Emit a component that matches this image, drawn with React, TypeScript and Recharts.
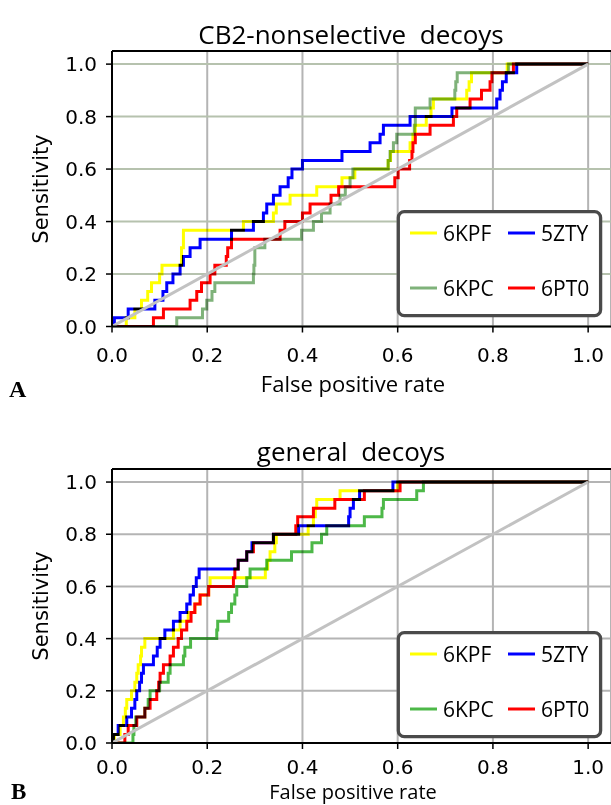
import { CartesianGrid, Line, LineChart, ReferenceLine, XAxis, YAxis } from "recharts"

const ticks = [0, 0.2, 0.4, 0.6, 0.8, 1.0]
const diagFpr = [0, 1]
const diagTpr = [0, 1]

// sensitivity levels shared by the 32-step curves
const tpr32 = [0, 0.033, 0.067, 0.1, 0.133, 0.167, 0.2, 0.233, 0.267, 0.3, 0.333, 0.367, 0.4, 0.433, 0.467, 0.5, 0.533, 0.567, 0.6, 0.633, 0.667, 0.7, 0.733, 0.767, 0.8, 0.833, 0.867, 0.9, 0.933, 0.967, 1.0, 1.0]

// A: CB2-nonselective decoys
const fprA_6KPF = [0, 0.03, 0.048, 0.062, 0.075, 0.083, 0.1, 0.105, 0.146, 0.15, 0.276, 0.339, 0.345, 0.374, 0.43, 0.483, 0.51, 0.58, 0.585, 0.626, 0.632, 0.637, 0.66, 0.67, 0.675, 0.745, 0.75, 0.755, 0.83, 1.0]
const tprA_6KPF = [0, 0.033, 0.067, 0.1, 0.133, 0.167, 0.2, 0.233, 0.3, 0.367, 0.4, 0.433, 0.467, 0.5, 0.533, 0.567, 0.6, 0.633, 0.667, 0.7, 0.733, 0.767, 0.8, 0.833, 0.867, 0.9, 0.933, 0.967, 1.0, 1.0]
const fprA_5ZTY = [0, 0.005, 0.034, 0.09, 0.107, 0.115, 0.128, 0.143, 0.15, 0.164, 0.185, 0.251, 0.297, 0.318, 0.325, 0.339, 0.353, 0.37, 0.378, 0.4, 0.483, 0.542, 0.563, 0.57, 0.626, 0.714, 0.808, 0.815, 0.82, 0.828, 0.85, 1.0]
const fprA_6KPC = [0, 0.136, 0.19, 0.199, 0.21, 0.216, 0.297, 0.298, 0.3, 0.321, 0.398, 0.423, 0.44, 0.458, 0.479, 0.49, 0.5, 0.506, 0.58, 0.584, 0.591, 0.598, 0.635, 0.637, 0.668, 0.72, 0.722, 0.725, 0.833, 1.0]
const tprA_6KPC = [0, 0.033, 0.067, 0.1, 0.133, 0.167, 0.2, 0.233, 0.3, 0.333, 0.367, 0.4, 0.433, 0.467, 0.5, 0.533, 0.567, 0.6, 0.633, 0.667, 0.7, 0.733, 0.767, 0.833, 0.867, 0.9, 0.933, 0.967, 1.0, 1.0]
const fprA_6PT0 = [0, 0.087, 0.108, 0.164, 0.178, 0.188, 0.206, 0.216, 0.24, 0.243, 0.251, 0.353, 0.363, 0.4, 0.416, 0.46, 0.476, 0.594, 0.601, 0.625, 0.63, 0.632, 0.637, 0.668, 0.717, 0.724, 0.752, 0.776, 0.794, 0.798, 0.843, 1.0]

// B: general decoys
const fprB_6KPF = [0, 0.005, 0.017, 0.024, 0.028, 0.031, 0.041, 0.048, 0.052, 0.055, 0.06, 0.062, 0.069, 0.129, 0.143, 0.16, 0.174, 0.185, 0.203, 0.206, 0.322, 0.327, 0.332, 0.342, 0.345, 0.412, 0.423, 0.427, 0.43, 0.479, 0.6, 1.0]
const fprB_5ZTY = [0, 0.003, 0.013, 0.031, 0.041, 0.048, 0.052, 0.058, 0.062, 0.066, 0.087, 0.095, 0.101, 0.111, 0.129, 0.143, 0.157, 0.164, 0.171, 0.177, 0.183, 0.265, 0.283, 0.294, 0.339, 0.392, 0.497, 0.5, 0.507, 0.52, 0.59, 1.0]
const fprB_6KPC = [0, 0.044, 0.046, 0.05, 0.069, 0.076, 0.08, 0.1, 0.118, 0.122, 0.15, 0.153, 0.165, 0.22, 0.222, 0.245, 0.251, 0.258, 0.262, 0.283, 0.29, 0.325, 0.377, 0.42, 0.44, 0.451, 0.53, 0.567, 0.57, 0.64, 0.654, 1.0]
const fprB_6PT0 = [0, 0.027, 0.034, 0.052, 0.069, 0.08, 0.094, 0.098, 0.101, 0.108, 0.122, 0.129, 0.139, 0.146, 0.157, 0.166, 0.174, 0.185, 0.203, 0.255, 0.258, 0.265, 0.283, 0.297, 0.339, 0.386, 0.39, 0.423, 0.468, 0.53, 0.605, 1.0]

const names = ["6KPF", "5ZTY", "6KPC", "6PT0"]

type Curve = { name: string; color: string; fpr: number[]; tpr: number[] }

const zip = (xs: number[], ys: number[]) => xs.map((x, i) => ({ x, y: ys[i] }))

const curvesA: Curve[] = [
  { name: names[0], color: "#ffff00", fpr: fprA_6KPF, tpr: tprA_6KPF },
  { name: names[1], color: "#0000ff", fpr: fprA_5ZTY, tpr: tpr32 },
  { name: names[2], color: "#7fb27a", fpr: fprA_6KPC, tpr: tprA_6KPC },
  { name: names[3], color: "#ff0000", fpr: fprA_6PT0, tpr: tpr32 },
]

const curvesB: Curve[] = [
  { name: names[0], color: "#ffff00", fpr: fprB_6KPF, tpr: tpr32 },
  { name: names[1], color: "#0000ff", fpr: fprB_5ZTY, tpr: tpr32 },
  { name: names[2], color: "#4db848", fpr: fprB_6KPC, tpr: tpr32 },
  { name: names[3], color: "#ff0000", fpr: fprB_6PT0, tpr: tpr32 },
]

const tickFont = { fontSize: 20, fontFamily: "DejaVu Sans", fill: "#000" }

function Panel({
  top,
  plotHeight,
  curves,
  hGridColor,
  xTickMargin,
}: {
  top: number
  plotHeight: number
  curves: Curve[]
  hGridColor: string
  xTickMargin: number
}) {
  const height = 380
  return (
    <div style={{ position: "absolute", left: 0, top, width: 611, height }}>
      <LineChart
        width={611}
        height={height}
        margin={{ top: 51, right: 0, left: 52, bottom: height - 51 - plotHeight - 40 }}
      >
        <CartesianGrid horizontal={false} stroke="#b4b4b4" strokeWidth={2} />
        <CartesianGrid vertical={false} stroke={hGridColor} strokeWidth={2} />
        <XAxis
          type="number"
          dataKey="x"
          domain={[0, 1.048]}
          ticks={ticks}
          interval={0}
          allowDataOverflow
          height={40}
          tickSize={6}
          tickMargin={xTickMargin}
          tick={tickFont}
          tickFormatter={(v: number) => v.toFixed(1)}
          axisLine={{ stroke: "#000", strokeWidth: 2 }}
          tickLine={{ stroke: "#000", strokeWidth: 1.5 }}
        />
        <YAxis
          type="number"
          dataKey="y"
          domain={[0, 1.05]}
          ticks={ticks}
          interval={0}
          allowDataOverflow
          width={60}
          tickSize={6}
          tickMargin={9}
          tick={tickFont}
          tickFormatter={(v: number) => v.toFixed(1)}
          axisLine={{ stroke: "#000", strokeWidth: 2 }}
          tickLine={{ stroke: "#000", strokeWidth: 1.5 }}
        />
        <ReferenceLine y={1.05} stroke="#000" strokeWidth={2} />
        {curves.map((c) => (
          <Line
            key={c.name}
            className="roc-blend"
            data={zip(c.fpr, c.tpr)}
            dataKey="y"
            type="stepAfter"
            stroke={c.color}
            strokeWidth={3}
            dot={false}
            activeDot={false}
            isAnimationActive={false}
          />
        ))}
        <Line
          data={zip(diagFpr, diagTpr)}
          dataKey="y"
          type="linear"
          stroke="#c2c2c2"
          strokeWidth={3}
          dot={false}
          activeDot={false}
          isAnimationActive={false}
        />
      </LineChart>
    </div>
  )
}

function Legend({ top, curves }: { top: number; curves: Curve[] }) {
  const cols = [410, 508]
  const rows = [23, 78]
  return (
    <g>
      <rect x={398.3} y={top + 1.7} width={202.3} height={104} rx={6} fill="#fff" stroke="#4a4a4a" strokeWidth={3.3} />
      {curves.map((c, i) => {
        const cx = cols[i % 2]
        const cy = top + rows[Math.floor(i / 2)]
        return (
          <g key={c.name}>
            <line x1={cx} x2={cx + 27} y1={cy} y2={cy} stroke={c.color} strokeWidth={3} />
            <text x={cx + 33} y={cy + 8.4} fontSize={21} fontFamily="Open Sans" fill="#000">
              {c.name}
            </text>
          </g>
        )
      })}
    </g>
  )
}

export default function App() {
  return (
    <div style={{ position: "absolute", left: 0, top: 0, width: 611, height: 805, overflow: "hidden", background: "#fff" }}>
      <style>{`.roc-blend { mix-blend-mode: multiply; }`}</style>
      <Panel top={0} plotHeight={275.5} curves={curvesA} hGridColor="#b6c2ae" xTickMargin={15} />
      <Panel top={418} plotHeight={274} curves={curvesB} hGridColor="#b4b4b4" xTickMargin={11} />
      <svg width={611} height={805} style={{ position: "absolute", left: 0, top: 0, pointerEvents: "none" }}>
        <text x={351} y={43.6} textAnchor="middle" fontSize={26} fontFamily="Open Sans" fill="#000" style={{ whiteSpace: "pre" }}>
          {"CB2-nonselective  decoys"}
        </text>
        <text x={351} y={461} textAnchor="middle" fontSize={26} fontFamily="Open Sans" fill="#000" style={{ whiteSpace: "pre" }}>
          {"general  decoys"}
        </text>
        <text x={48} y={189} transform="rotate(-90 48 189)" textAnchor="middle" fontSize={21} fontFamily="DejaVu Sans" fill="#000">
          Sensitivity
        </text>
        <text x={48} y={606} transform="rotate(-90 48 606)" textAnchor="middle" fontSize={21} fontFamily="DejaVu Sans" fill="#000">
          Sensitivity
        </text>
        <text x={353} y={392} textAnchor="middle" fontSize={22} fontFamily="Open Sans" fill="#000">
          False positive rate
        </text>
        <text x={353} y={799} textAnchor="middle" fontSize={20} fontFamily="Open Sans" fill="#000">
          False positive rate
        </text>
        <text x={9} y={397} fontSize={24} fontWeight="bold" fontFamily="Liberation Serif" fill="#000">
          A
        </text>
        <text x={11} y={799} fontSize={23} fontWeight="bold" fontFamily="Liberation Serif" fill="#000">
          B
        </text>
        <Legend top={210} curves={curvesA} />
        <Legend top={631} curves={curvesB} />
      </svg>
    </div>
  )
}
